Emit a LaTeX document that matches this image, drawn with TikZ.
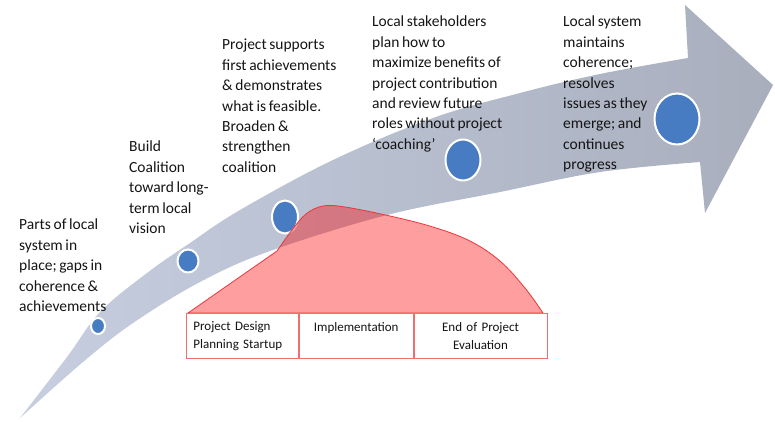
\documentclass[tikz,border=0pt]{standalone}
\usepackage{fontspec}
\setmainfont{Carlito}[WordSpace=0.75]
\usetikzlibrary{shapes.geometric,positioning}

\definecolor{bandlight}{RGB}{198,206,224}
\definecolor{banddark}{RGB}{168,174,188}
\definecolor{dotblue}{RGB}{72,124,194}
\definecolor{humpred}{RGB}{232,56,60}
\definecolor{cellred}{RGB}{240,110,110}
\definecolor{inkgray}{RGB}{20,20,20}

\begin{document}
\begin{tikzpicture}[x=1pt,y=-1pt]
% Styles
 \tikzstyle{stage}=[anchor=north west,inner sep=0pt,align=left,text=inkgray,
   font=\fontsize{15.5}{20.4}\selectfont]
 \tikzstyle{dot}=[ellipse,fill=dotblue,draw=white,line width=2pt,inner sep=0pt]
 \tikzstyle{cell}=[rectangle,draw=cellred,fill=white,line width=0.8pt,
   minimum height=45pt,inner xsep=7pt,inner ysep=0pt,text=inkgray,
   font=\fontsize{13}{18}\selectfont]
 \useasboundingbox (0,0) rectangle (775,421);
% Curved arrow
 \shade[left color=bandlight,right color=banddark]
   plot[smooth,tension=0.6] coordinates {(20,418) (67,357) (100,312) (147,273)
     (190,243) (240,210) (333,160) (433,118) (520,93) (600,74) (688,58)}
   -- (685,5) -- (773,85) -- (705,213)
   -- plot[smooth,tension=0.6] coordinates {(700,162) (600,172) (500,192)
     (387,215) (270,251) (200,282) (133,323) (83,362) (20,418)}
   -- cycle;
% Milestones
 \node[dot,minimum width=14pt,minimum height=16pt] (m1) at (98,326) {};
 \node[dot,minimum width=21pt,minimum height=23pt] (m2) at (188,261) {};
 \node[dot,minimum width=26pt,minimum height=33pt] (m3) at (285,217) {};
 \node[dot,minimum width=35pt,minimum height=41pt] (m4) at (463,160) {};
 \node[dot,minimum width=45pt,minimum height=51pt] (m5) at (677,119) {};
% Project curve
 \draw[humpred,fill=red,fill opacity=0.38,line width=0.8pt]
   (188,313) -- plot[smooth,tension=0.6] coordinates {(277,251) (292,230)
     (306,214) (323,206) (345,207) (390,216) (433,227) (470,241) (500,261)
     (525,288) (543,313)} -- cycle;
% Project phases
 \node[cell,anchor=north west,minimum width=112pt,text width=98pt,align=left]
   (design) at (186,313) {Project Design\\Planning Startup};
 \node[cell,right=0pt of design,minimum width=114pt,text width=100pt,align=center]
   (impl) {Implementation\\\mbox{}};
 \node[cell,right=0pt of impl,minimum width=133pt,text width=119pt,align=center]
   (closing) {End of Project\\Evaluation};
% Stage texts
 \node[stage] (s1) at (19,219) {Parts of local\\system in\\place; gaps in\\coherence \&\\achievements};
 \node[stage] (s2) at (129,141) {Build\\Coalition\\toward long-\\term local\\vision};
 \node[stage] (s3) at (222,39) {Project supports\\first achievements\\\& demonstrates\\what is feasible.\\Broaden \&\\strengthen\\coalition};
 \node[stage] (s4) at (372,16) {Local stakeholders\\plan how to\\maximize benefits of\\project contribution\\and review future\\roles without project\\‘coaching’};
 \node[stage] (s5) at (563,16) {Local system\\maintains\\coherence;\\resolves\\issues as they\\emerge; and\\continues\\progress};
\end{tikzpicture}
\end{document}
